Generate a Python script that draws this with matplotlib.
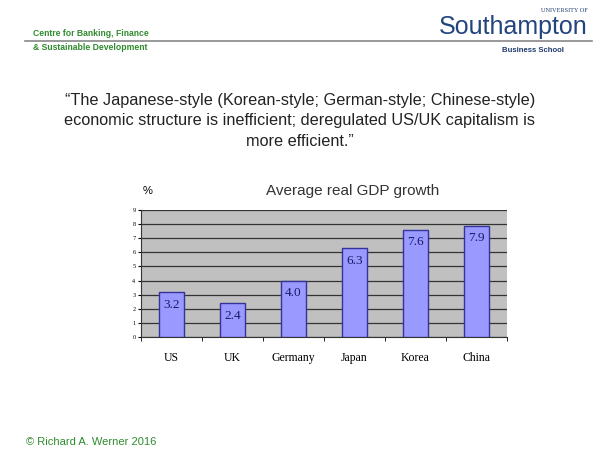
import matplotlib.pyplot as plt
import numpy as np

countries = ["US", "UK", "Germany", "Japan", "Korea", "China"]
growth = [3.2, 2.4, 4.0, 6.3, 7.6, 7.9]
value_labels = ["3.2", "2.4", "4.0", "6.3", "7.6", "7.9"]
y_ticks = list(range(0, 10))

W, H = 595, 453
fig = plt.figure(figsize=(W / 100, H / 100), dpi=100)
fig.patch.set_facecolor("white")


def fx(px):
    return px / W


def fy(py):
    return 1 - py / H


# header
green = "#2e8b2e"
fig.text(fx(33), fy(33), "Centre for Banking, Finance", color=green, fontsize=6.2,
         fontweight="bold", family="Liberation Sans", va="center")
fig.text(fx(33), fy(47), "& Sustainable Development", color=green, fontsize=6.2,
         fontweight="bold", family="Liberation Sans", va="center")
fig.add_artist(plt.Line2D([fx(25), fx(592)], [fy(41), fy(41)], color="#888888", lw=1.2))
fig.text(fx(588), fy(11), "UNIVERSITY OF", color="#1f3b6e", fontsize=4.5,
         family="Liberation Serif", ha="right", va="center")
fig.text(fx(588), fy(27), "Southampton", color="#23457e", fontsize=18,
         family="Liberation Sans", ha="right", va="center")
fig.text(fx(533), fy(50), "Business School", color="#1f3b6e", fontsize=5.6,
         fontweight="bold", family="Liberation Sans", ha="center", va="center")

# quote
quote = ("\u201cThe Japanese-style (Korean-style; German-style; Chinese-style)\n"
         "economic structure is inefficient; deregulated US/UK capitalism is\n"
         "more efficient.\u201d")
fig.text(fx(300), fy(121), quote, ha="center", va="center", fontsize=11.7,
         family="Liberation Sans", color="#222222", linespacing=1.5)

# chart
ax = fig.add_axes([fx(141), fy(337), fx(507) - fx(141), fy(210) - fy(337)])
ax.set_facecolor("#c0c0c0")
x = np.arange(len(countries))
bars = ax.bar(x, growth, width=0.41, color="#9999ff", edgecolor="#333399", linewidth=1.0,
              zorder=3)
for b, lab in zip(bars, value_labels):
    ax.text(b.get_x() + b.get_width() / 2, b.get_height() - 0.9, lab, ha="center",
            va="center", fontsize=9.5, family="Liberation Serif", color="#1a1a66", zorder=4)

ax.set_xlim(-0.5, len(countries) - 0.5)
ax.set_ylim(0, 9)
ax.set_yticks(y_ticks)
ax.set_yticklabels([str(v) for v in y_ticks], fontsize=4.5, family="Liberation Serif")
ax.yaxis.grid(True, color="#333333", lw=0.9, zorder=1)
ax.set_xticks(x)
ax.set_xticklabels(countries, fontsize=8.5, family="Liberation Serif")
ax.set_xticks(np.arange(-0.5, len(countries), 1), minor=True)
ax.tick_params(axis="x", which="major", length=0, pad=11)
ax.tick_params(axis="x", which="minor", length=3, direction="out")
ax.tick_params(axis="y", length=2, pad=2)
for side in ["top", "right"]:
    ax.spines[side].set_visible(False)
ax.spines["left"].set_color("#333333")
ax.spines["bottom"].set_color("#333333")

fig.text(fx(143), fy(191), "%", fontsize=8, family="Liberation Sans", va="center")
fig.text(fx(353), fy(191), "Average real GDP growth", fontsize=11,
         family="Liberation Sans", color="#333333", ha="center", va="center")

fig.text(fx(26), fy(442), "\u00a9 Richard A. Werner 2016", color=green, fontsize=8,
         family="Liberation Sans", va="center")

fig.savefig("out.png", dpi=100)
